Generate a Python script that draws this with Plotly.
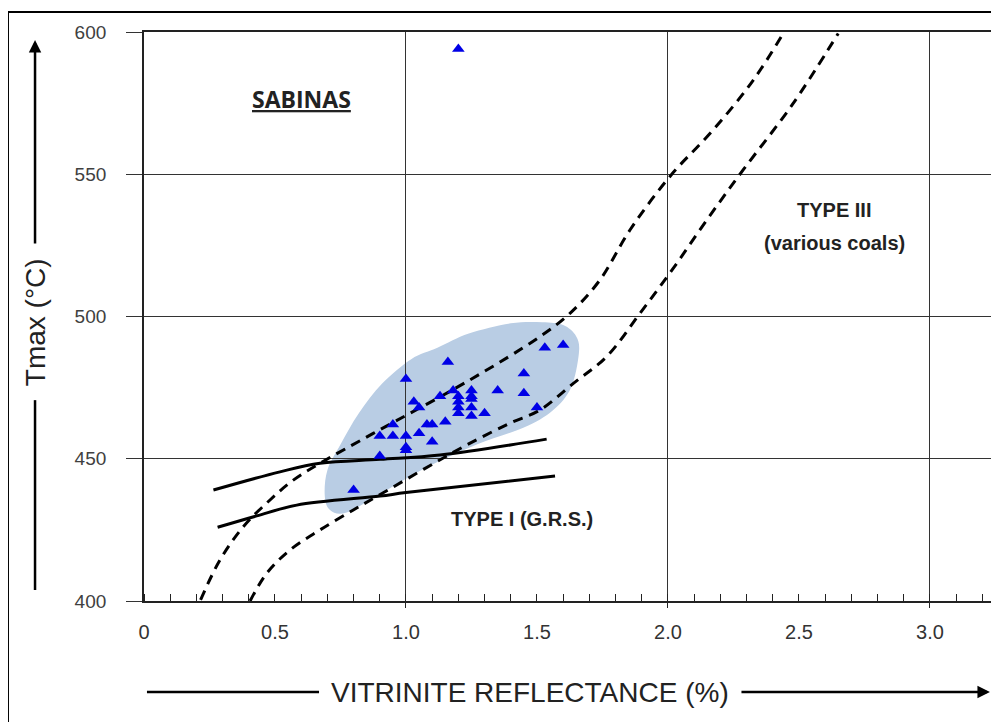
import plotly.graph_objects as go

# Sabinas samples: vitrinite reflectance (%) vs Tmax (C)
ro = [1.16, 1.00, 1.03, 1.05, 1.13, 1.18, 1.20, 1.20, 1.20, 1.20,
      1.25, 1.25, 1.25, 1.25, 1.25, 1.30, 1.35, 1.45, 1.45, 1.50,
      1.53, 1.60, 1.15, 1.08, 1.10, 1.10, 1.05, 1.00, 1.00, 1.00,
      0.95, 0.95, 0.90, 0.90, 0.80, 1.20]
tmax = [484, 478, 470, 468, 472, 474, 472, 470, 468, 466,
        474, 472, 471, 468, 465, 466, 474, 480, 473, 468,
        489, 490, 463, 462, 462, 456, 459, 458, 454, 453,
        462, 458, 458, 451, 439, 594]

# shaded envelope around the samples
blob_x = [0.71, 0.77, 0.89, 1.08, 1.27, 1.45, 1.56, 1.63, 1.66, 1.65,
          1.60, 1.52, 1.40, 1.24, 1.12, 1.02, 0.91, 0.82, 0.75, 0.70, 0.69]
blob_y = [432, 431, 437, 447, 455, 461, 467, 475, 487, 493,
          497, 498, 497.6, 494, 489, 485, 476.5, 466, 455, 446, 437]

# Type I (G.R.S.) solid band
t1a_x = [0.265, 0.519, 0.672, 0.901, 1.13, 1.537]
t1a_y = [439.0, 445.4, 448.4, 449.8, 451.3, 456.9]
t1b_x = [0.281, 0.430, 0.583, 0.901, 1.0, 1.569]
t1b_y = [425.9, 429.9, 433.7, 436.9, 438.1, 443.9]

# Type III (various coals) dashed band
t3a_x = [0.216, 0.290, 0.379, 0.481, 0.570, 0.672, 0.875, 1.244, 1.511,
         1.626, 1.740, 1.855, 2.010, 2.173, 2.326, 2.440]
t3a_y = [400.4, 414.4, 426.1, 435.5, 442.5, 448.4, 458.9, 477.7, 492.9,
         501.1, 512.8, 530.4, 549.5, 565.6, 583.1, 599.5]
t3b_x = [0.405, 0.468, 0.557, 0.672, 0.799, 0.888, 1.219, 1.397, 1.511,
         1.639, 1.766, 1.893, 2.020, 2.148, 2.287, 2.478, 2.650]
t3b_y = [400.0, 409.7, 417.9, 425.0, 432.0, 436.7, 454.2, 462.5, 467.1,
         476.5, 485.9, 501.1, 516.9, 533.9, 551.5, 574.9, 599.5]

x_tickvals = [0, 0.5, 1.0, 1.5, 2.0, 2.5, 3.0]
x_ticktext = ['0', '0.5', '1.0', '1.5', '2.0', '2.5', '3.0']
x_grid = [1.0, 2.0, 3.0]
y_tickvals = [400, 450, 500, 550, 600]


def closed_spline(xs, ys):
    # Catmull-Rom through the outline points, as cubic beziers
    pts = list(zip(xs, ys))
    n = len(pts)
    d = f"M{pts[0][0]},{pts[0][1]}"
    for i in range(n):
        p0, p1, p2, p3 = pts[i - 1], pts[i], pts[(i + 1) % n], pts[(i + 2) % n]
        c1 = (p1[0] + (p2[0] - p0[0]) / 6, p1[1] + (p2[1] - p0[1]) / 6)
        c2 = (p2[0] - (p3[0] - p1[0]) / 6, p2[1] - (p3[1] - p1[1]) / 6)
        d += f" C{c1[0]},{c1[1]} {c2[0]},{c2[1]} {p2[0]},{p2[1]}"
    return d + " Z"


fig = go.Figure()

for xs, ys in [(t1a_x, t1a_y), (t1b_x, t1b_y)]:
    fig.add_trace(go.Scatter(x=xs, y=ys, mode='lines', line=dict(color='black', width=3, shape='spline'),
                             hoverinfo='skip'))
for xs, ys in [(t3a_x, t3a_y), (t3b_x, t3b_y)]:
    fig.add_trace(go.Scatter(x=xs, y=ys, mode='lines', cliponaxis=True,
                             line=dict(color='black', width=3, dash='10px,7px', shape='spline'),
                             hoverinfo='skip'))

fig.add_trace(go.Scatter(x=ro, y=tmax, mode='markers',
                         marker=dict(symbol='triangle-up', size=11, color='#0000e6')))

# blob under the grid
fig.add_shape(type='path', path=closed_spline(blob_x, blob_y), xref='x', yref='y',
              fillcolor='#b9cde4', line=dict(width=0), layer='below')

# outer frame
fig.add_shape(type='rect', xref='paper', yref='paper', x0=-0.1604, x1=1.2, y0=-0.5, y1=1.0351,
              line=dict(color='black', width=2))

# axis title arrows
title_font = dict(family='Liberation Sans, Arial', size=28, color='#222')
fig.add_shape(type='line', xref='paper', yref='paper', x0=0.0035, x1=0.2064, y0=-0.160, y1=-0.160,
              line=dict(color='black', width=2.5))
fig.add_annotation(xref='paper', yref='paper', x=0.9976, y=-0.160, ax=-250, ay=0, text='',
                   showarrow=True, arrowhead=2, arrowsize=1, arrowwidth=2.5, arrowcolor='black')
fig.add_annotation(xref='paper', yref='paper', x=0.455, y=-0.160, text='VITRINITE REFLECTANCE (%)',
                   xanchor='center', yanchor='middle', showarrow=False, font=title_font)

fig.add_shape(type='line', xref='paper', yref='paper', x0=-0.1285, x1=-0.1285, y0=0.0193, y1=0.353,
              line=dict(color='black', width=2.5))
fig.add_annotation(xref='paper', yref='paper', x=-0.1285, y=0.986, ax=0, ay=205, text='',
                   showarrow=True, arrowhead=2, arrowsize=1, arrowwidth=2.5, arrowcolor='black')
fig.add_annotation(xref='paper', yref='paper', x=-0.1285, y=0.490, text='Tmax (°C)', textangle=-90,
                   xanchor='center', yanchor='middle', showarrow=False, font=title_font)

# labels
bold = dict(family='Liberation Sans, Arial', size=20, color='#222')
fig.add_annotation(x=0.603, y=576.4, text='<b><u>SABINAS</u></b>', showarrow=False,
                   font=dict(family='Open Sans, Noto Sans', size=23, color='#222'))
fig.add_annotation(x=2.634, y=537.4, text='<b>TYPE III</b>', showarrow=False, font=bold)
fig.add_annotation(x=2.634, y=525.8, text='<b>(various coals)</b>', showarrow=False, font=bold)
fig.add_annotation(x=1.443, y=428.8, text='<b>TYPE I (G.R.S.)</b>', showarrow=False, font=bold)

# the page adds an 8px body margin, so the plot sits 8px up-left of the target spot
fig.update_layout(
    width=999, height=722,
    margin=dict(l=136, r=15, t=24, b=129),
    paper_bgcolor='white', plot_bgcolor='white',
    showlegend=False,
    xaxis=dict(range=[0, 3.237], tickmode='array', tickvals=x_tickvals, ticktext=x_ticktext,
               ticks='', showgrid=False, zeroline=False,
               showline=True, mirror=True, linecolor='#222', linewidth=1.8,
               tickfont=dict(family='Liberation Sans, Arial', size=20, color='#333'),
               ticklabelstandoff=12,
               minor=dict(dtick=0.1, tick0=0, ticks='inside', ticklen=7, tickcolor='#222',
                          tickwidth=1.3, showgrid=False)),
    xaxis2=dict(overlaying='x', matches='x', side='bottom', tickmode='array', tickvals=x_grid,
                ticks='outside', ticklen=6, tickcolor='#222', showticklabels=False,
                showgrid=True, gridcolor='#333', gridwidth=1.2, showline=False, zeroline=False),
    yaxis=dict(range=[400, 600], tickmode='array', tickvals=y_tickvals,
               ticks='outside', ticklen=16, tickcolor='#333', tickwidth=1.3,
               showgrid=True, gridcolor='#333', gridwidth=1.2, zeroline=False,
               showline=True, mirror=True, linecolor='#222', linewidth=1.8,
               tickfont=dict(family='Liberation Sans, Arial', size=19, color='#404040'),
               ticklabelstandoff=16),
)

# dummy trace to activate xaxis2 grid
fig.add_trace(go.Scatter(x=[None], y=[None], xaxis='x2', hoverinfo='skip'))

fig.write_html("out.html")
